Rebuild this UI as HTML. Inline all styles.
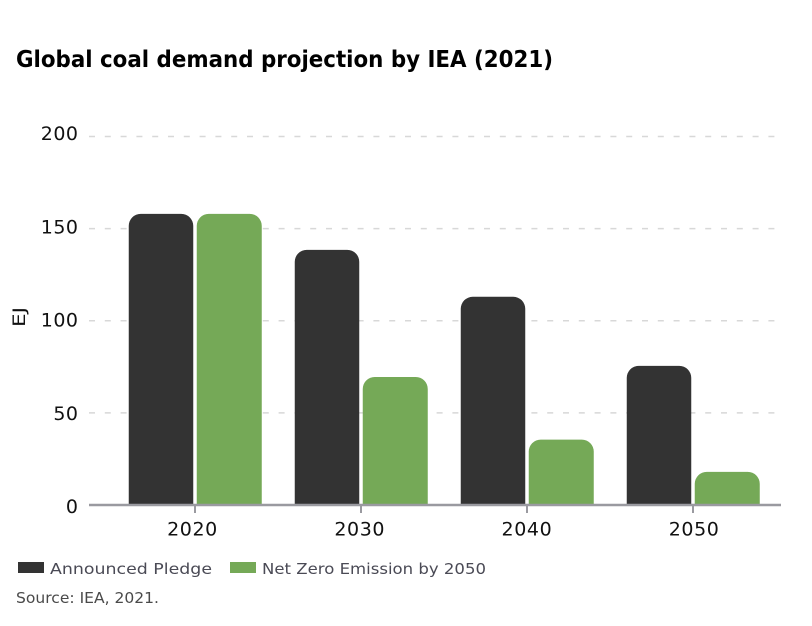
<!DOCTYPE html>
<html lang="en">
<head>
<meta charset="utf-8">
<title>Global coal demand projection by IEA (2021)</title>
<style>
html,body{margin:0;padding:0;background:#fff;}
body{width:812px;height:626px;overflow:hidden;}
svg{display:block;font-family:"DejaVu Sans","Liberation Sans",sans-serif;}
</style>
</head>
<body>
<svg id="chart" width="812" height="626" viewBox="0 0 812 626" xmlns="http://www.w3.org/2000/svg">
  <text x="16" y="67" font-size="23" font-weight="700" fill="#000" textLength="537" lengthAdjust="spacingAndGlyphs">Global coal demand projection by IEA (2021)</text>
  <g id="grid"></g>
  <g id="bars"></g>
  <g id="axes"></g>
  <text transform="translate(25,317) rotate(-90)" text-anchor="middle" font-size="17" fill="#111" textLength="20" lengthAdjust="spacingAndGlyphs">EJ</text>
  <rect x="18" y="562" width="26" height="11" fill="#333333"/>
  <text x="50" y="574" font-size="15.5" fill="#4a4a55" textLength="162" lengthAdjust="spacingAndGlyphs">Announced Pledge</text>
  <rect x="230" y="562" width="26" height="11" fill="#75a957"/>
  <text x="262" y="574" font-size="15.5" fill="#4a4a55" textLength="224" lengthAdjust="spacingAndGlyphs">Net Zero Emission by 2050</text>
  <text x="16" y="603" font-size="15" fill="#4a4a4a" textLength="143" lengthAdjust="spacingAndGlyphs">Source: IEA, 2021.</text>
</svg>
<script>
const categories = ['2020', '2030', '2040', '2050'];
const announcedPledge = [158, 138.5, 113, 75.5];
const netZero = [158, 69.5, 35.5, 18];
const yTicks = [0, 50, 100, 150, 200];

const NS = 'http://www.w3.org/2000/svg';
const plotLeft = 89, plotRight = 781, plotBottom = 505, plotTop = 136.5, yMax = 200;
const firstCenter = 195, band = 166, barWidth = 65, barGap = 3.5, radius = 12;

function yScale(v) { return plotBottom - (v / yMax) * (plotBottom - plotTop); }
function yLabelScale(v) { return 506 - (v / yMax) * 373; }
function xScale(i) { return firstCenter + i * band; }
function xLabelScale(i) { return 192.5 + i * 167.2; }
function make(tag, attrs, parent) {
  const el = document.createElementNS(NS, tag);
  for (const k in attrs) el.setAttribute(k, attrs[k]);
  parent.appendChild(el);
  return el;
}
function barPath(x, w, v) {
  const top = yScale(v), r = Math.min(radius, (plotBottom - top));
  return 'M' + x + ' ' + plotBottom + 'V' + (top + r) + 'A' + r + ' ' + r + ' 0 0 1 ' + (x + r) + ' ' + top +
    'H' + (x + w - r) + 'A' + r + ' ' + r + ' 0 0 1 ' + (x + w) + ' ' + (top + r) + 'V' + plotBottom + 'Z';
}

const gridG = document.getElementById('grid');
const barsG = document.getElementById('bars');
const axesG = document.getElementById('axes');

yTicks.forEach(function (t) {
  const y = yScale(t);
  if (t !== 0) {
    const line = make('line', { x1: plotLeft, x2: plotRight, y1: y, y2: y, stroke: '#d8d8d8', 'stroke-width': 1.5, 'stroke-dasharray': '6 9.8' }, gridG);
    
    
  }
  const label = make('text', { x: 78.5, y: yLabelScale(t) + 7, 'text-anchor': 'end', 'font-size': 19, 'letter-spacing': 0.5, fill: '#111' }, axesG);
  label.textContent = t;
  
  
});

categories.forEach(function (c, i) {
  const cx = xScale(i);
  const dark = make('path', { d: barPath(cx - barGap / 2 - barWidth + 0.5, barWidth - 0.5, announcedPledge[i]), fill: '#333333' }, barsG);
  
  
  const green = make('path', { d: barPath(cx + barGap / 2, barWidth, netZero[i]), fill: '#75a957' }, barsG);
  
  

  const tick = make('line', { x1: cx, x2: cx, y1: plotBottom, y2: plotBottom + 8, stroke: '#9a9aa0', 'stroke-width': 2 }, axesG);
  
  
  const label = make('text', { x: xLabelScale(i), y: 535.5, 'text-anchor': 'middle', 'font-size': 19, 'letter-spacing': 0.6, fill: '#111' }, axesG);
  label.textContent = c;
  
  
});

const axisLine = make('line', { x1: plotLeft, x2: plotRight, y1: plotBottom, y2: plotBottom, stroke: '#9a9aa0', 'stroke-width': 2.5 }, axesG);


</script>
</body>
</html>
